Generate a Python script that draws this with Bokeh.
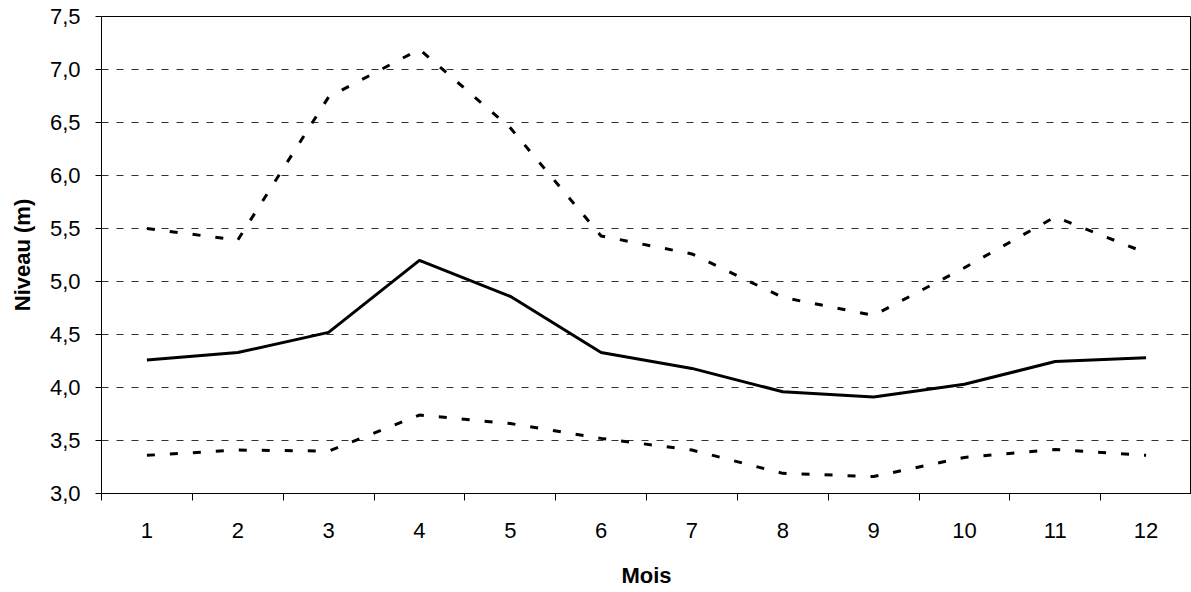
from bokeh.plotting import figure
from bokeh.models import FixedTicker, Range1d
from bokeh.embed import file_html
from bokeh.resources import INLINE

# Data
mois = list(range(1, 13))
niveau_moyen = [4.26, 4.33, 4.52, 5.20, 4.86, 4.33, 4.18, 3.96, 3.91, 4.03, 4.245, 4.28]
niveau_max = [5.50, 5.39, 6.74, 7.19, 6.45, 5.43, 5.26, 4.85, 4.68, 5.13, 5.61, 5.27]
niveau_min = [3.36, 3.41, 3.40, 3.74, 3.66, 3.52, 3.41, 3.19, 3.16, 3.34, 3.415, 3.36]
y_ticks = [3.0, 3.5, 4.0, 4.5, 5.0, 5.5, 6.0, 6.5, 7.0, 7.5]
y_labels = ["3,0", "3,5", "4,0", "4,5", "5,0", "5,5", "6,0", "6,5", "7,0", "7,5"]
x_labels = [str(m) for m in mois]

FONT = "Liberation Sans"

p = figure(width=1191, height=590, output_backend="svg", toolbar_location=None,
           x_range=Range1d(0.5, 12.5), y_range=Range1d(3.0, 7.5),
           min_border_left=101, min_border_top=16, min_border_right=0, min_border_bottom=10)
p.background_fill_color = "white"
p.border_fill_color = "white"
p.outline_line_color = "black"
p.outline_line_width = 1

# Lines
p.line(mois, niveau_max, line_color="black", line_width=3, line_dash="8 15")
p.line(mois, niveau_min, line_color="black", line_width=3, line_dash="8 15")
p.line(mois, niveau_moyen, line_color="black", line_width=3)

# X axis
xa = p.xaxis[0]
xa.ticker = FixedTicker(ticks=mois, minor_ticks=[m + 0.5 for m in range(0, 13)])
xa.major_label_overrides = {m: lab for m, lab in zip(mois, x_labels)}
xa.major_tick_out = 0
xa.major_tick_in = 0
xa.minor_tick_out = 7
xa.minor_tick_in = 0
xa.minor_tick_line_color = "black"
xa.axis_line_color = "black"
xa.major_label_standoff = 22
xa.major_label_text_font = FONT
xa.major_label_text_font_size = "22px"
xa.major_label_text_color = "black"
xa.axis_label = "Mois"
xa.axis_label_text_font = FONT
xa.axis_label_text_font_size = "22px"
xa.axis_label_text_font_style = "bold"
xa.axis_label_text_color = "black"
xa.axis_label_standoff = 22

# Y axis
ya = p.yaxis[0]
ya.ticker = FixedTicker(ticks=y_ticks, minor_ticks=[])
ya.major_label_overrides = {t: lab for t, lab in zip(y_ticks, y_labels)}
ya.major_tick_out = 6
ya.major_tick_in = 0
ya.major_tick_line_color = "black"
ya.minor_tick_line_color = None
ya.axis_line_color = "black"
ya.major_label_standoff = 15
ya.major_label_text_font = FONT
ya.major_label_text_font_size = "22px"
ya.major_label_text_color = "black"
ya.axis_label = "Niveau (m)"
ya.axis_label_text_font = FONT
ya.axis_label_text_font_size = "22px"
ya.axis_label_text_font_style = "bold"
ya.axis_label_text_color = "black"
ya.axis_label_standoff = 12

# Grid
p.xgrid.grid_line_color = None
p.ygrid.ticker = FixedTicker(ticks=[3.5, 4.0, 4.5, 5.0, 5.5, 6.0, 6.5, 7.0])
p.ygrid.grid_line_color = "#333333"
p.ygrid.grid_line_width = 1
p.ygrid.grid_line_dash = "7 8"

open("out.html", "w").write(file_html(p, INLINE))
